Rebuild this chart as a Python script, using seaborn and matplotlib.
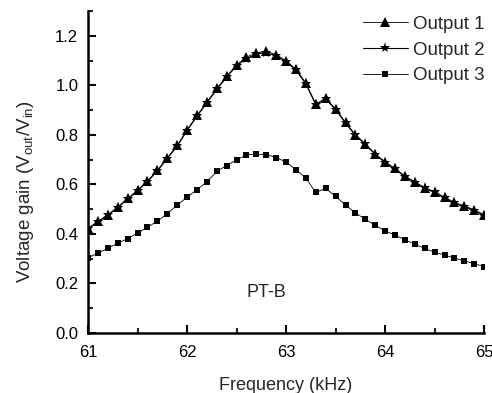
import numpy as np
import pandas as pd
import matplotlib
matplotlib.use("Agg")
import matplotlib.pyplot as plt
import seaborn as sns
from matplotlib.ticker import MultipleLocator

# frequency in kHz, 0.1 kHz steps
freq = [61.0, 61.1, 61.2, 61.3, 61.4, 61.5, 61.6, 61.7, 61.8, 61.9,
        62.0, 62.1, 62.2, 62.3, 62.4, 62.5, 62.6, 62.7, 62.8, 62.9,
        63.0, 63.1, 63.2, 63.3, 63.4, 63.5, 63.6, 63.7, 63.8, 63.9,
        64.0, 64.1, 64.2, 64.3, 64.4, 64.5, 64.6, 64.7, 64.8, 64.9, 65.0]

output1 = [0.423, 0.450, 0.478, 0.508, 0.543, 0.576, 0.614, 0.657, 0.707, 0.757,
           0.820, 0.878, 0.932, 0.987, 1.037, 1.083, 1.114, 1.131, 1.137, 1.124,
           1.099, 1.065, 1.009, 0.925, 0.947, 0.905, 0.850, 0.801, 0.764, 0.723,
           0.691, 0.664, 0.634, 0.610, 0.587, 0.570, 0.548, 0.527, 0.513, 0.497, 0.477]

output2 = [0.420, 0.448, 0.476, 0.506, 0.540, 0.574, 0.611, 0.654, 0.704, 0.754,
           0.817, 0.875, 0.929, 0.983, 1.033, 1.078, 1.108, 1.126, 1.131, 1.120,
           1.095, 1.061, 1.005, 0.921, 0.944, 0.902, 0.847, 0.798, 0.761, 0.720,
           0.688, 0.661, 0.631, 0.607, 0.584, 0.567, 0.545, 0.524, 0.510, 0.494, 0.474]

output3 = [0.304, 0.322, 0.342, 0.362, 0.381, 0.403, 0.427, 0.451, 0.482, 0.516,
           0.548, 0.579, 0.610, 0.652, 0.676, 0.699, 0.719, 0.722, 0.720, 0.708,
           0.690, 0.659, 0.625, 0.567, 0.584, 0.551, 0.517, 0.484, 0.459, 0.434,
           0.412, 0.395, 0.376, 0.358, 0.341, 0.326, 0.314, 0.302, 0.291, 0.279, 0.268]

sns.set_style("ticks")
plt.rcParams['font.family'] = ['Liberation Sans', 'DejaVu Sans']
plt.rcParams['mathtext.fontset'] = 'custom'
plt.rcParams['mathtext.rm'] = 'Liberation Sans'
plt.rcParams['mathtext.it'] = 'Liberation Sans'

df = pd.DataFrame({"freq": freq, "o1": output1, "o2": output2, "o3": output3})

fig = plt.figure(figsize=(4.92, 3.93), dpi=100)
ax = fig.add_axes([0.179, 0.153, 0.805, 0.819])

sns.lineplot(data=df, x="freq", y="o2", ax=ax, color="black", lw=0.8,
             marker="*", markersize=8, markeredgewidth=0, label="Output 2", zorder=2)
sns.lineplot(data=df, x="freq", y="o1", ax=ax, color="black", lw=0.6,
             marker="^", markersize=6.5, markeredgewidth=0, label="Output 1", zorder=3)
sns.lineplot(data=df, x="freq", y="o3", ax=ax, color="black", lw=0.6,
             marker="s", markersize=5, markeredgewidth=0, label="Output 3", zorder=3)

ax.set_xlim(61, 65)
ax.set_ylim(0, 1.3)
ax.xaxis.set_major_locator(MultipleLocator(1))
ax.xaxis.set_minor_locator(MultipleLocator(0.5))
ax.yaxis.set_minor_locator(MultipleLocator(0.1))
ax.set_yticks([0, 0.2, 0.4, 0.6, 0.8, 1.0, 1.2])
ax.set_yticklabels(["0.0", "0.2", "0.4", "0.6", "0.8", "1.0", "1.2"])
ax.tick_params(axis="both", which="major", direction="in", length=6, width=1.5,
               labelsize=12, colors="black", pad=7)
ax.tick_params(axis="x", which="major", pad=9)
ax.tick_params(axis="both", which="minor", direction="in", length=3.5, width=1.5)
for s in ["left", "bottom"]:
    ax.spines[s].set_linewidth(1.8)
    ax.spines[s].set_color("black")
sns.despine(ax=ax)

ax.set_xlabel("Frequency (kHz)", fontsize=13, labelpad=12)
ax.set_ylabel(r"Voltage gain (V$_{\mathrm{out}}$/V$_{\mathrm{in}}$)", fontsize=13.5)
ax.yaxis.label.set_va("center")
ax.yaxis.set_label_coords(-0.157, 0.438)
ax.text(62.8, 0.165, "PT-B", fontsize=13, ha="center", va="center")

h, l = ax.get_legend_handles_labels()
order = [l.index("Output 1"), l.index("Output 2"), l.index("Output 3")]
ax.legend([h[i] for i in order], [l[i] for i in order], loc="upper right",
          bbox_to_anchor=(1.03, 1.02), frameon=False, fontsize=13.5,
          handlelength=2.4, handletextpad=0.3, labelspacing=0.45, borderaxespad=0.2)

fig.savefig("out.png", dpi=100)
